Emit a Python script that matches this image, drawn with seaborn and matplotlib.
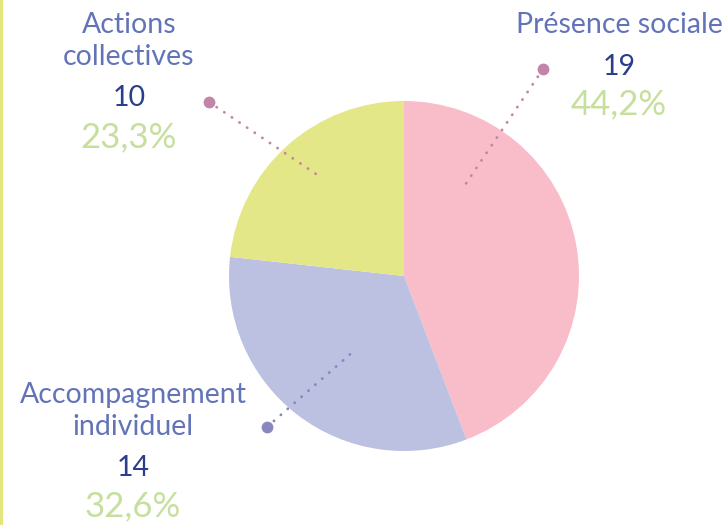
import matplotlib
matplotlib.use("Agg")
import matplotlib.pyplot as plt
from matplotlib import font_manager
import seaborn as sns

# Activity breakdown
categories = ["Présence sociale", "Accompagnement\nindividuel", "Actions\ncollectives"]
counts = [19, 14, 10]
percent_labels = ["44,2%", "32,6%", "23,3%"]

slice_colors = ["#f9bdca", "#bcc0e1", "#e3e787"]
leader_colors = ["#c285a8", "#8a86c0", "#c285a8"]

sns.set_theme(style="white")
names = {f.name for f in font_manager.fontManager.ttflist}
family = ["Lato", "DejaVu Sans"] if "Lato" in names else ["DejaVu Sans"]
plt.rcParams["font.family"] = family

W, H = 722, 525
fig = plt.figure(figsize=(W / 100, H / 100), dpi=100)
ax = fig.add_axes([0, 0, 1, 1])


def py(y):
    return H - y


cx, cy, r = 404, 276, 175
ax.pie(counts, colors=slice_colors, startangle=90, counterclock=False,
       center=(cx, py(cy)), radius=r, wedgeprops=dict(linewidth=0),
       frame=True)
ax.set_xlim(0, W)
ax.set_ylim(0, H)
ax.set_aspect("equal")
ax.axis("off")

# left accent bar
ax.add_patch(plt.Rectangle((0, 0), 3, H, color="#e2e67c", lw=0))

# label blocks: (title center x, title y, number y, percent y, leader outer, leader inner)
layout = [
    (619, 25, 67, 104, (543, 69), (465, 185)),
    (133, 395, 468, 506, (267, 427), (355, 350)),
    (129, 25, 98, 137, (209, 102), (322, 178)),
]

label_color = "#6273b8"
number_color = "#2a3e8d"
pct_color = "#c6df9c"

for cat, n, pct, lc, (tx, ty, ny, pyy, outer, inner) in zip(
        categories, counts, percent_labels, leader_colors, layout):
    lines = cat.split("\n")
    for i, line in enumerate(lines):
        ax.text(tx, py(ty + 32 * i), line, ha="center", va="center",
                fontsize=20.5, color=label_color, fontweight="normal")
    ax.text(tx, py(ny), str(n), ha="center", va="center",
            fontsize=20.5, color=number_color, fontweight="normal")
    ax.text(tx, py(pyy), pct, ha="center", va="center",
            fontsize=25, color=pct_color, fontweight="normal")
    ax.plot([outer[0], inner[0]], [py(outer[1]), py(inner[1])],
            color=lc, lw=2, linestyle=(0, (0.1, 3.2)),
            dash_capstyle="round", solid_capstyle="round")
    ax.plot([outer[0]], [py(outer[1])], "o", color=lc, ms=8.5, mew=0)

fig.savefig("out.png", dpi=100, facecolor="white")
